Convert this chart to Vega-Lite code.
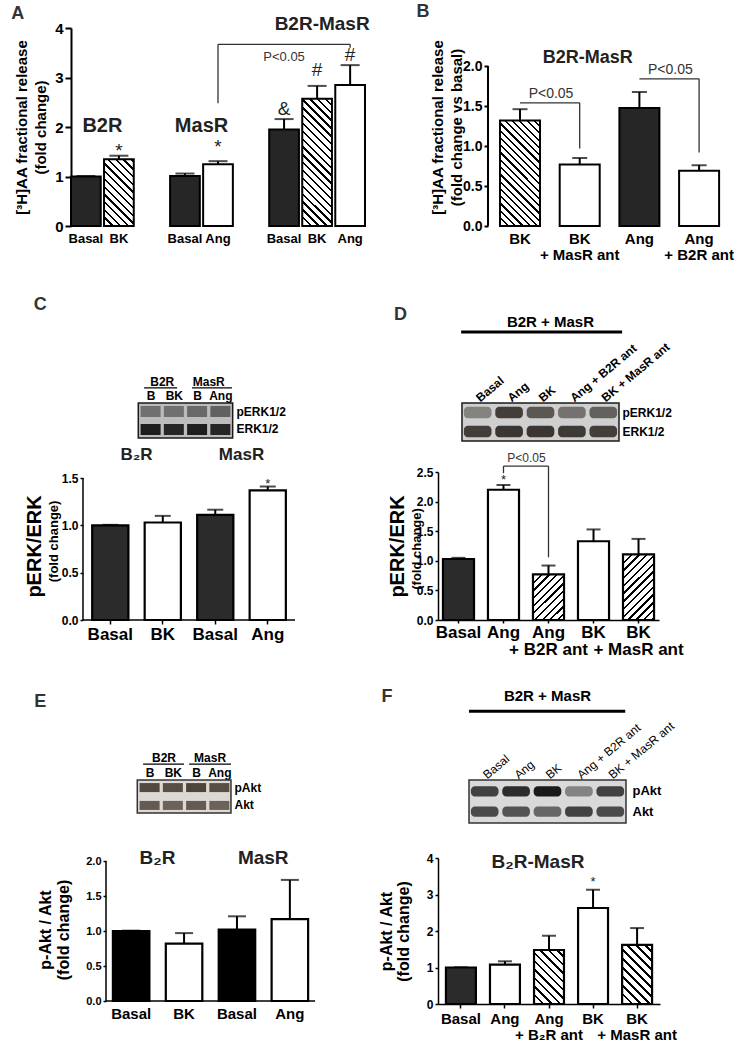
{
"$schema": "https://vega.github.io/schema/vega-lite/v6.json",
"background": "white",
"padding": 0,
"columns": 4,
"align": "each",
"bounds": "flush",
"spacing": 0,
"config": {
  "font": "Liberation Sans",
  "view": {"stroke": null},
  "axis": {"grid": false, "domainColor": "#000", "tickColor": "#000", "labelColor": "#000", "titleColor": "#000", "labelFontWeight": "bold", "titleFontWeight": "bold", "labelFont": "Liberation Sans", "titleFont": "Liberation Sans"},
  "text": {"font": "Liberation Sans"}
},
"concat": [
{"width": 71, "height": 1, "data": {"values": []}, "mark": "point", "encoding": {}},
{"width": 1, "height": 28, "data": {"values": []}, "mark": "point", "encoding": {}},
{"width": 73, "height": 1, "data": {"values": []}, "mark": "point", "encoding": {}},
{"width": 1, "height": 1, "data": {"values": []}, "mark": "point", "encoding": {}},

{"width": 1, "height": 1, "data": {"values": []}, "mark": "point", "encoding": {}},
{
  "width": 294, "height": 198,
  "encoding": {
    "x": {"field": "slot", "type": "nominal", "scale": {"domain": ["Basal|1","BK|2","|3","Basal|4","Ang|5","|6","Basal|7","BK|8","Ang|9"], "paddingInner": 0.1, "paddingOuter": 0},
          "axis": {"title": null, "domain": false, "ticks": false, "labelAngle": 0, "labelExpr": "split(datum.value,'|')[0]", "labelFontSize": 13, "labelPadding": 6}},
    "y": {"field": "v", "type": "quantitative", "scale": {"domain": [0,4], "nice": false},
          "axis": {"values": [0,1,2,3,4], "title": ["[³H]AA fractional release", "(fold change)"], "titleFontSize": 15, "titleLineHeight": 19, "titlePadding": 6, "labelFontSize": 15, "tickSize": 6, "tickWidth": 2, "domainWidth": 2, "labelPadding": 2}}
  },
  "layer": [
    {
      "data": {"values": [
        {"slot":"Basal|1","v":1.0,"hi":1.01,"kind":"solid"},
        {"slot":"BK|2","v":1.35,"hi":1.42,"kind":"hatchA2"},
        {"slot":"Basal|4","v":1.01,"hi":1.06,"kind":"solid"},
        {"slot":"Ang|5","v":1.25,"hi":1.31,"kind":"white"},
        {"slot":"Basal|7","v":1.95,"hi":2.16,"kind":"solid"},
        {"slot":"BK|8","v":2.57,"hi":2.83,"kind":"hatchA8"},
        {"slot":"Ang|9","v":2.85,"hi":3.25,"kind":"white"}
      ]},
      "layer": [
        {"mark": {"type": "rule", "strokeWidth": 2, "color": "#000"}, "encoding": {"y2": {"field": "hi"}}},
        {"mark": {"type": "tick", "thickness": 2, "size": 19, "color": "#000"}, "encoding": {"y": {"field": "hi", "type": "quantitative", "scale": {"domain": [0,4], "nice": false}}}},
        {"mark": {"type": "bar", "stroke": "#000", "strokeWidth": 2},
         "encoding": {"fill": {"condition": [
            {"test": "datum.kind==='solid'", "value": "#262626"},
            {"test": "datum.kind==='hatchA2'", "value": {"gradient": "linear", "x1": 0, "y1": 1, "x2": 0.536, "y2": -0.206, "stops": [
{"offset":0,"color":"#000"},{"offset":0.024,"color":"#000"},{"offset":0.024,"color":"#fff"},{"offset":0.08,"color":"#fff"},
{"offset":0.08,"color":"#000"},{"offset":0.104,"color":"#000"},{"offset":0.104,"color":"#fff"},{"offset":0.16,"color":"#fff"},
{"offset":0.16,"color":"#000"},{"offset":0.184,"color":"#000"},{"offset":0.184,"color":"#fff"},{"offset":0.24,"color":"#fff"},
{"offset":0.24,"color":"#000"},{"offset":0.264,"color":"#000"},{"offset":0.264,"color":"#fff"},{"offset":0.32,"color":"#fff"},
{"offset":0.32,"color":"#000"},{"offset":0.344,"color":"#000"},{"offset":0.344,"color":"#fff"},{"offset":0.4,"color":"#fff"},
{"offset":0.4,"color":"#000"},{"offset":0.424,"color":"#000"},{"offset":0.424,"color":"#fff"},{"offset":0.48,"color":"#fff"},
{"offset":0.48,"color":"#000"},{"offset":0.504,"color":"#000"},{"offset":0.504,"color":"#fff"},{"offset":0.56,"color":"#fff"},
{"offset":0.56,"color":"#000"},{"offset":0.584,"color":"#000"},{"offset":0.584,"color":"#fff"},{"offset":0.64,"color":"#fff"},
{"offset":0.64,"color":"#000"},{"offset":0.664,"color":"#000"},{"offset":0.664,"color":"#fff"},{"offset":0.72,"color":"#fff"},
{"offset":0.72,"color":"#000"},{"offset":0.744,"color":"#000"},{"offset":0.744,"color":"#fff"},{"offset":0.8,"color":"#fff"},
{"offset":0.8,"color":"#000"},{"offset":0.824,"color":"#000"},{"offset":0.824,"color":"#fff"},{"offset":0.88,"color":"#fff"},
{"offset":0.88,"color":"#000"},{"offset":0.904,"color":"#000"},{"offset":0.904,"color":"#fff"},{"offset":0.96,"color":"#fff"},
{"offset":0.96,"color":"#000"},{"offset":0.984,"color":"#000"},{"offset":0.984,"color":"#fff"},{"offset":1,"color":"#fff"}]}},
            {"test": "datum.kind==='hatchA8'", "value": {"gradient": "linear", "x1": 0, "y1": 1, "x2": 0.273, "y2": -0.170, "stops": [
{"offset":0,"color":"#000"},{"offset":0.015,"color":"#000"},{"offset":0.015,"color":"#fff"},{"offset":0.05,"color":"#fff"},
{"offset":0.05,"color":"#000"},{"offset":0.065,"color":"#000"},{"offset":0.065,"color":"#fff"},{"offset":0.1,"color":"#fff"},
{"offset":0.1,"color":"#000"},{"offset":0.115,"color":"#000"},{"offset":0.115,"color":"#fff"},{"offset":0.15,"color":"#fff"},
{"offset":0.15,"color":"#000"},{"offset":0.165,"color":"#000"},{"offset":0.165,"color":"#fff"},{"offset":0.2,"color":"#fff"},
{"offset":0.2,"color":"#000"},{"offset":0.215,"color":"#000"},{"offset":0.215,"color":"#fff"},{"offset":0.25,"color":"#fff"},
{"offset":0.25,"color":"#000"},{"offset":0.265,"color":"#000"},{"offset":0.265,"color":"#fff"},{"offset":0.3,"color":"#fff"},
{"offset":0.3,"color":"#000"},{"offset":0.315,"color":"#000"},{"offset":0.315,"color":"#fff"},{"offset":0.35,"color":"#fff"},
{"offset":0.35,"color":"#000"},{"offset":0.365,"color":"#000"},{"offset":0.365,"color":"#fff"},{"offset":0.4,"color":"#fff"},
{"offset":0.4,"color":"#000"},{"offset":0.415,"color":"#000"},{"offset":0.415,"color":"#fff"},{"offset":0.45,"color":"#fff"},
{"offset":0.45,"color":"#000"},{"offset":0.465,"color":"#000"},{"offset":0.465,"color":"#fff"},{"offset":0.5,"color":"#fff"},
{"offset":0.5,"color":"#000"},{"offset":0.515,"color":"#000"},{"offset":0.515,"color":"#fff"},{"offset":0.55,"color":"#fff"},
{"offset":0.55,"color":"#000"},{"offset":0.565,"color":"#000"},{"offset":0.565,"color":"#fff"},{"offset":0.6,"color":"#fff"},
{"offset":0.6,"color":"#000"},{"offset":0.615,"color":"#000"},{"offset":0.615,"color":"#fff"},{"offset":0.65,"color":"#fff"},
{"offset":0.65,"color":"#000"},{"offset":0.665,"color":"#000"},{"offset":0.665,"color":"#fff"},{"offset":0.7,"color":"#fff"},
{"offset":0.7,"color":"#000"},{"offset":0.715,"color":"#000"},{"offset":0.715,"color":"#fff"},{"offset":0.75,"color":"#fff"},
{"offset":0.75,"color":"#000"},{"offset":0.765,"color":"#000"},{"offset":0.765,"color":"#fff"},{"offset":0.8,"color":"#fff"},
{"offset":0.8,"color":"#000"},{"offset":0.815,"color":"#000"},{"offset":0.815,"color":"#fff"},{"offset":0.85,"color":"#fff"},
{"offset":0.85,"color":"#000"},{"offset":0.865,"color":"#000"},{"offset":0.865,"color":"#fff"},{"offset":0.9,"color":"#fff"},
{"offset":0.9,"color":"#000"},{"offset":0.915,"color":"#000"},{"offset":0.915,"color":"#fff"},{"offset":0.95,"color":"#fff"},
{"offset":0.95,"color":"#000"},{"offset":0.965,"color":"#000"},{"offset":0.965,"color":"#fff"},{"offset":1,"color":"#fff"}]}}
           ], "value": "#ffffff"}}}
      ]
    },
    {
      "data": {"values": [
        {"slot":"BK|2","v":1.52,"t":"*"},{"slot":"Ang|5","v":1.6,"t":"*"},
        {"slot":"Basal|7","v":2.36,"t":"&"},{"slot":"BK|8","v":3.15,"t":"#"},{"slot":"Ang|9","v":3.45,"t":"#"}
      ]},
      "mark": {"type": "text", "fontSize": 19, "color": "#222"},
      "encoding": {"text": {"field": "t"}}
    },
    {
      "data": {"values": [
        {"xa":"Ang|5","xb":"Ang|5","ya":2.48,"yb":3.67},
        {"xa":"Ang|5","xb":"Ang|9","ya":3.67,"yb":3.67},
        {"xa":"Ang|9","xb":"Ang|9","ya":3.67,"yb":3.6}
      ]},
      "mark": {"type": "rule", "strokeWidth": 1.3, "color": "#333"},
      "encoding": {
        "x": {"field": "xa", "type": "nominal", "scale": {"domain": ["Basal|1","BK|2","|3","Basal|4","Ang|5","|6","Basal|7","BK|8","Ang|9"], "paddingInner": 0.1, "paddingOuter": 0}},
        "x2": {"field": "xb"},
        "y": {"field": "ya", "type": "quantitative", "scale": {"domain": [0,4], "nice": false}},
        "y2": {"field": "yb"}
      }
    },
    {
      "data": {"values": [{"slot":"Basal|7","v":3.42,"t":"P<0.05"}]},
      "mark": {"type": "text", "fontSize": 13, "color": "#333"},
      "encoding": {"text": {"field": "t"}}
    },
    {
      "data": {"values": [{"slot":"Basal|1","v":2.02,"t":"B2R"},{"slot":"Basal|4","v":2.02,"t":"MasR"}]},
      "mark": {"type": "text", "fontSize": 20, "fontWeight": "bold", "color": "#222"},
      "encoding": {"x": {"field": "slot", "type": "nominal", "bandPosition": 1.057, "scale": {"domain": ["Basal|1","BK|2","|3","Basal|4","Ang|5","|6","Basal|7","BK|8","Ang|9"], "paddingInner": 0.1, "paddingOuter": 0}}, "text": {"field": "t"}}
    },
    {
      "data": {"values": [{"slot":"BK|8","v":4.08,"t":"B2R-MasR"}]},
      "mark": {"type": "text", "fontSize": 19, "fontWeight": "bold", "color": "#222"},
      "encoding": {"x": {"field": "slot", "type": "nominal", "bandPosition": 0.67, "scale": {"domain": ["Basal|1","BK|2","|3","Basal|4","Ang|5","|6","Basal|7","BK|8","Ang|9"], "paddingInner": 0.1, "paddingOuter": 0}}, "text": {"field": "t"}}
    },
    {
      "data": {"values": [{"slot":"Basal|1","v":4.28,"t":"A"}]},
      "mark": {"type": "text", "fontSize": 18, "fontWeight": "bold", "color": "#333", "dx": -68},
      "encoding": {"text": {"field": "t"}}
    }
  ]
},
{"width": 1, "height": 1, "data": {"values": []}, "mark": "point", "encoding": {}},
{
  "width": 293, "height": 198,
  "encoding": {
    "x": {"field": "slot", "type": "nominal", "scale": {"domain": ["BK","BK + MasR ant","Ang","Ang + B2R ant"], "paddingInner": 0.33, "paddingOuter": 0.619, "align": 0.839},
          "axis": {"title": null, "domain": false, "ticks": false, "labelAngle": 0, "labelFontSize": 15, "labelPadding": 5, "labelLineHeight": 16,
                   "labelExpr": "indexof(datum.value,' + ')>0 ? [slice(datum.value,0,indexof(datum.value,' + ')), slice(datum.value,indexof(datum.value,' + ')+1)] : datum.value"}},
    "y": {"field": "v", "type": "quantitative", "scale": {"domain": [0,2.475], "nice": false},
          "axis": {"values": [0,0.5,1,1.5,2], "format": ".1f", "offset": -50, "domain": false, "title": ["[³H]AA fractional release", "(fold change vs basal)"], "titleFontSize": 15, "titleLineHeight": 19, "titlePadding": -2, "labelFontSize": 14, "tickSize": 4, "tickWidth": 2, "labelPadding": 2}}
  },
  "layer": [
    {
      "data": {"values": [{"xa":"BK","ya":0,"yb":2}]},
      "mark": {"type": "rule", "strokeWidth": 2, "color": "#000"},
      "encoding": {
        "x": {"field": "xa", "type": "nominal", "bandPosition": -0.3, "scale": {"domain": ["BK","BK + MasR ant","Ang","Ang + B2R ant"], "paddingInner": 0.33, "paddingOuter": 0.619, "align": 0.839}},
        "y": {"field": "ya", "type": "quantitative", "scale": {"domain": [0,2.475], "nice": false}},
        "y2": {"field": "yb"}
      }
    },
    {
      "data": {"values": [
        {"slot":"BK","v":1.32,"hi":1.46,"kind":"hatchB1"},
        {"slot":"BK + MasR ant","v":0.77,"hi":0.85,"kind":"white"},
        {"slot":"Ang","v":1.475,"hi":1.675,"kind":"solid"},
        {"slot":"Ang + B2R ant","v":0.69,"hi":0.76,"kind":"white"}
      ]},
      "layer": [
        {"mark": {"type": "rule", "strokeWidth": 2, "color": "#000"}, "encoding": {"y2": {"field": "hi"}}},
        {"mark": {"type": "tick", "thickness": 2, "size": 15, "color": "#000"}, "encoding": {"y": {"field": "hi", "type": "quantitative", "scale": {"domain": [0,2.475], "nice": false}}}},
        {"mark": {"type": "bar", "stroke": "#000", "strokeWidth": 2},
         "encoding": {"fill": {"condition": [
            {"test": "datum.kind==='solid'", "value": "#262626"},
            {"test": "datum.kind==='hatchB1'", "value": {"gradient": "linear", "x1": 0, "y1": 1, "x2": 0.457, "y2": -0.206, "stops": [
{"offset":0,"color":"#000"},{"offset":0.015,"color":"#000"},{"offset":0.015,"color":"#fff"},{"offset":0.05,"color":"#fff"},
{"offset":0.05,"color":"#000"},{"offset":0.065,"color":"#000"},{"offset":0.065,"color":"#fff"},{"offset":0.1,"color":"#fff"},
{"offset":0.1,"color":"#000"},{"offset":0.115,"color":"#000"},{"offset":0.115,"color":"#fff"},{"offset":0.15,"color":"#fff"},
{"offset":0.15,"color":"#000"},{"offset":0.165,"color":"#000"},{"offset":0.165,"color":"#fff"},{"offset":0.2,"color":"#fff"},
{"offset":0.2,"color":"#000"},{"offset":0.215,"color":"#000"},{"offset":0.215,"color":"#fff"},{"offset":0.25,"color":"#fff"},
{"offset":0.25,"color":"#000"},{"offset":0.265,"color":"#000"},{"offset":0.265,"color":"#fff"},{"offset":0.3,"color":"#fff"},
{"offset":0.3,"color":"#000"},{"offset":0.315,"color":"#000"},{"offset":0.315,"color":"#fff"},{"offset":0.35,"color":"#fff"},
{"offset":0.35,"color":"#000"},{"offset":0.365,"color":"#000"},{"offset":0.365,"color":"#fff"},{"offset":0.4,"color":"#fff"},
{"offset":0.4,"color":"#000"},{"offset":0.415,"color":"#000"},{"offset":0.415,"color":"#fff"},{"offset":0.45,"color":"#fff"},
{"offset":0.45,"color":"#000"},{"offset":0.465,"color":"#000"},{"offset":0.465,"color":"#fff"},{"offset":0.5,"color":"#fff"},
{"offset":0.5,"color":"#000"},{"offset":0.515,"color":"#000"},{"offset":0.515,"color":"#fff"},{"offset":0.55,"color":"#fff"},
{"offset":0.55,"color":"#000"},{"offset":0.565,"color":"#000"},{"offset":0.565,"color":"#fff"},{"offset":0.6,"color":"#fff"},
{"offset":0.6,"color":"#000"},{"offset":0.615,"color":"#000"},{"offset":0.615,"color":"#fff"},{"offset":0.65,"color":"#fff"},
{"offset":0.65,"color":"#000"},{"offset":0.665,"color":"#000"},{"offset":0.665,"color":"#fff"},{"offset":0.7,"color":"#fff"},
{"offset":0.7,"color":"#000"},{"offset":0.715,"color":"#000"},{"offset":0.715,"color":"#fff"},{"offset":0.75,"color":"#fff"},
{"offset":0.75,"color":"#000"},{"offset":0.765,"color":"#000"},{"offset":0.765,"color":"#fff"},{"offset":0.8,"color":"#fff"},
{"offset":0.8,"color":"#000"},{"offset":0.815,"color":"#000"},{"offset":0.815,"color":"#fff"},{"offset":0.85,"color":"#fff"},
{"offset":0.85,"color":"#000"},{"offset":0.865,"color":"#000"},{"offset":0.865,"color":"#fff"},{"offset":0.9,"color":"#fff"},
{"offset":0.9,"color":"#000"},{"offset":0.915,"color":"#000"},{"offset":0.915,"color":"#fff"},{"offset":0.95,"color":"#fff"},
{"offset":0.95,"color":"#000"},{"offset":0.965,"color":"#000"},{"offset":0.965,"color":"#fff"},{"offset":1,"color":"#fff"}]}}
           ], "value": "#ffffff"}}}
      ]
    },
    {
      "data": {"values": [
        {"xa":"BK","xb":"BK + MasR ant","ya":1.54,"yb":1.54},
        {"xa":"BK + MasR ant","xb":"BK + MasR ant","ya":1.54,"yb":0.97},
        {"xa":"Ang","xb":"Ang + B2R ant","ya":1.84,"yb":1.84},
        {"xa":"Ang + B2R ant","xb":"Ang + B2R ant","ya":1.84,"yb":0.92}
      ]},
      "mark": {"type": "rule", "strokeWidth": 1.3, "color": "#333"},
      "encoding": {
        "x": {"field": "xa", "type": "nominal", "scale": {"domain": ["BK","BK + MasR ant","Ang","Ang + B2R ant"], "paddingInner": 0.33, "paddingOuter": 0.619, "align": 0.839}},
        "x2": {"field": "xb"},
        "y": {"field": "ya", "type": "quantitative", "scale": {"domain": [0,2.475], "nice": false}},
        "y2": {"field": "yb"}
      }
    },
    {
      "data": {"values": [{"slot":"BK","v":1.65,"t":"P<0.05"},{"slot":"Ang","v":1.95,"t":"P<0.05"}]},
      "mark": {"type": "text", "fontSize": 14, "color": "#333", "dx": 31},
      "encoding": {"text": {"field": "t"}}
    },
    {
      "data": {"values": [{"slot":"BK + MasR ant","v":2.1,"t":"B2R-MasR"}]},
      "mark": {"type": "text", "fontSize": 18, "fontWeight": "bold", "color": "#222", "dx": 8},
      "encoding": {"text": {"field": "t"}}
    },
    {
      "data": {"values": [{"slot":"BK","v":2.675,"t":"B"}]},
      "mark": {"type": "text", "fontSize": 18, "fontWeight": "bold", "color": "#333", "dx": -97},
      "encoding": {"text": {"field": "t"}}
    }
  ]
},

{"width": 1, "height": 1, "data": {"values": []}, "mark": "point", "encoding": {}},
{"width": 1, "height": 177, "data": {"values": []}, "mark": "point", "encoding": {}},
{"width": 1, "height": 1, "data": {"values": []}, "mark": "point", "encoding": {}},
{"width": 1, "height": 1, "data": {"values": []}, "mark": "point", "encoding": {}},

{"width": 1, "height": 1, "data": {"values": []}, "mark": "point", "encoding": {}},
{
  "width": 162, "height": 35,
  "resolve": {"scale": {"y": "independent"}},
  "layer": [
    {
      "data": {"values": [{"a":0.47,"b":4.53}]},
      "mark": {"type": "rect", "fill": "#bcbcbc", "stroke": "#1a1a1a", "strokeWidth": 1.5},
      "encoding": {
        "x": {"field": "a", "type": "quantitative", "scale": {"domain": [-2.424, 4.544], "nice": false, "zero": false},
              "axis": {"orient": "top", "values": [1,2,3,4], "title": null, "domain": false, "ticks": false, "grid": false, "labelExpr": "['B','BK','B','Ang'][datum.value-1]", "labelFontSize": 12, "labelPadding": 1}},
        "x2": {"field": "b"},
        "y": {"datum": 0, "type": "quantitative", "scale": {"domain": [0,1]}, "axis": null},
        "y2": {"datum": 1}
      }
    },
    {
      "data": {"values": [
        {"ln":1,"track":"pERK1/2","i":0.45},{"ln":2,"track":"pERK1/2","i":0.45},{"ln":3,"track":"pERK1/2","i":0.5},{"ln":4,"track":"pERK1/2","i":0.55},
        {"ln":1,"track":"ERK1/2","i":0.95},{"ln":2,"track":"ERK1/2","i":0.9},{"ln":3,"track":"ERK1/2","i":0.95},{"ln":4,"track":"ERK1/2","i":0.9}
      ]},
      "mark": {"type": "tick", "thickness": 20, "size": 11, "color": "#151515"},
      "encoding": {
        "x": {"field": "ln", "type": "quantitative", "scale": {"domain": [-2.424, 4.544], "nice": false, "zero": false}},
        "y": {"field": "track", "type": "nominal", "scale": {"domain": ["pERK1/2","ERK1/2"], "paddingInner": 0.35, "paddingOuter": 0.15},
              "axis": {"orient": "right", "title": null, "domain": false, "ticks": false, "labelFontSize": 12, "labelPadding": 3}},
        "opacity": {"field": "i", "type": "quantitative", "scale": {"domain": [0,1], "range": [0,1]}, "legend": null}
      }
    },
    {
      "data": {"values": [{"ln":1.5,"t":"B2R"},{"ln":3.5,"t":"MasR"}]},
      "mark": {"type": "text", "fontSize": 12, "fontWeight": "bold", "color": "#000"},
      "encoding": {
        "x": {"field": "ln", "type": "quantitative", "scale": {"domain": [-2.424, 4.544], "nice": false, "zero": false}},
        "y": {"datum": 1.6, "type": "quantitative", "scale": {"domain": [0,1]}, "axis": null},
        "text": {"field": "t"}
      }
    },
    {
      "data": {"values": [{"a":0.72,"b":2.14},{"a":2.78,"b":4.5}]},
      "mark": {"type": "rule", "strokeWidth": 1.2, "color": "#000"},
      "encoding": {
        "x": {"field": "a", "type": "quantitative", "scale": {"domain": [-2.424, 4.544], "nice": false, "zero": false}},
        "x2": {"field": "b"},
        "y": {"datum": 1.43, "type": "quantitative", "scale": {"domain": [0,1]}, "axis": null}
      }
    }
  ]
},
{"width": 1, "height": 1, "data": {"values": []}, "mark": "point", "encoding": {}},
{
  "width": 181, "height": 38,
  "resolve": {"scale": {"y": "independent"}},
  "layer": [
    {
      "data": {"values": [{"a":"Basal","b":"BK + MasR ant"}]},
      "mark": {"type": "rect", "fill": "#cfcfcf", "stroke": "#1a1a1a", "strokeWidth": 1.5},
      "encoding": {
        "x": {"field": "a", "type": "nominal", "bandPosition": -0.068, "scale": {"domain": ["Basal","Ang","BK","Ang + B2R ant","BK + MasR ant"], "paddingInner": 0.12, "paddingOuter": 0.442, "align": 0.932},
              "axis": {"orient": "top", "title": null, "domain": false, "ticks": false, "labelAngle": -40, "labelAlign": "left", "labelBaseline": "middle", "labelFontSize": 12, "labelPadding": 4}},
        "x2": {"field": "b", "bandPosition": 1.068},
        "y": {"datum": 0, "type": "quantitative", "scale": {"domain": [0,1]}, "axis": null},
        "y2": {"datum": 1}
      }
    },
    {
      "data": {"values": [
        {"lane":"Basal","track":"pERK1/2","i":0.45},{"lane":"Ang","track":"pERK1/2","i":0.85},{"lane":"BK","track":"pERK1/2","i":0.7},{"lane":"Ang + B2R ant","track":"pERK1/2","i":0.55},{"lane":"BK + MasR ant","track":"pERK1/2","i":0.65},
        {"lane":"Basal","track":"ERK1/2","i":0.85},{"lane":"Ang","track":"ERK1/2","i":0.9},{"lane":"BK","track":"ERK1/2","i":0.9},{"lane":"Ang + B2R ant","track":"ERK1/2","i":0.88},{"lane":"BK + MasR ant","track":"ERK1/2","i":0.85}
      ]},
      "mark": {"type": "rect", "cornerRadius": 4, "color": "#2a2520"},
      "encoding": {
        "x": {"field": "lane", "type": "nominal", "scale": {"domain": ["Basal","Ang","BK","Ang + B2R ant","BK + MasR ant"], "paddingInner": 0.12, "paddingOuter": 0.442, "align": 0.932}},
        "y": {"field": "track", "type": "nominal", "scale": {"domain": ["pERK1/2","ERK1/2"], "paddingInner": 0.4, "paddingOuter": 0.2},
              "axis": {"orient": "right", "title": null, "domain": false, "ticks": false, "labelFontSize": 12, "labelPadding": 3}},
        "opacity": {"field": "i", "type": "quantitative", "scale": {"domain": [0,1], "range": [0,1]}, "legend": null}
      }
    },
    {
      "data": {"values": [{"lane":"BK","t":"B2R + MasR"}]},
      "mark": {"type": "text", "fontSize": 15, "fontWeight": "bold", "color": "#000"},
      "encoding": {
        "x": {"field": "lane", "type": "nominal", "bandPosition": 0.86, "scale": {"domain": ["Basal","Ang","BK","Ang + B2R ant","BK + MasR ant"], "paddingInner": 0.12, "paddingOuter": 0.442, "align": 0.932}},
        "y": {"datum": 3.13, "type": "quantitative", "scale": {"domain": [0,1]}, "axis": null},
        "text": {"field": "t"}
      }
    },
    {
      "data": {"values": [{"a":"Basal","b":"BK + MasR ant"}]},
      "mark": {"type": "rule", "strokeWidth": 3, "color": "#000"},
      "encoding": {
        "x": {"field": "a", "type": "nominal", "bandPosition": -0.1, "scale": {"domain": ["Basal","Ang","BK","Ang + B2R ant","BK + MasR ant"], "paddingInner": 0.12, "paddingOuter": 0.442, "align": 0.932}},
        "x2": {"field": "b", "bandPosition": 1.18},
        "y": {"datum": 2.87, "type": "quantitative", "scale": {"domain": [0,1]}, "axis": null}
      }
    }
  ]
},

{"width": 1, "height": 1, "data": {"values": []}, "mark": "point", "encoding": {}},
{"width": 1, "height": 31, "data": {"values": []}, "mark": "point", "encoding": {}},
{"width": 1, "height": 1, "data": {"values": []}, "mark": "point", "encoding": {}},
{"width": 1, "height": 1, "data": {"values": []}, "mark": "point", "encoding": {}},

{"width": 1, "height": 1, "data": {"values": []}, "mark": "point", "encoding": {}},
{
  "width": 224, "height": 148,
  "encoding": {
    "x": {"field": "slot", "type": "nominal", "scale": {"domain": ["Basal|1","BK|2","Basal|3","Ang|4"], "paddingInner": 0.31, "paddingOuter": 0.289, "align": 0.6985},
          "axis": {"title": null, "domain": false, "tickWidth": 1.5, "tickSize": 4, "labelAngle": 0, "labelExpr": "split(datum.value,'|')[0]", "labelFontSize": 17, "labelPadding": 2}},
    "y": {"field": "v", "type": "quantitative", "scale": {"domain": [0,1.5634], "nice": false},
          "axis": {"values": [0,0.5,1,1.5], "format": ".1f", "offset": -12, "domain": false, "title": "pERK/ERK", "titleFontSize": 20, "titlePadding": 17, "labelFontSize": 12, "tickSize": 3, "tickWidth": 1.5, "labelPadding": 2}}
  },
  "layer": [
    {
      "data": {"values": [{"xa":"Basal|1","ya":0,"yb":1.5}]},
      "mark": {"type": "rule", "strokeWidth": 1.5, "color": "#000"},
      "encoding": {
        "x": {"field": "xa", "type": "nominal", "bandPosition": -0.254, "scale": {"domain": ["Basal|1","BK|2","Basal|3","Ang|4"], "paddingInner": 0.31, "paddingOuter": 0.289, "align": 0.6985}},
        "y": {"field": "ya", "type": "quantitative", "scale": {"domain": [0,1.5634], "nice": false}},
        "y2": {"field": "yb"}
      }
    },
    {
      "data": {"values": [{"xa":"Basal|1","xb":"Ang|4","ya":0}]},
      "mark": {"type": "rule", "strokeWidth": 1.5, "color": "#000"},
      "encoding": {
        "x": {"field": "xa", "type": "nominal", "bandPosition": -0.254, "scale": {"domain": ["Basal|1","BK|2","Basal|3","Ang|4"], "paddingInner": 0.31, "paddingOuter": 0.289, "align": 0.6985}},
        "x2": {"field": "xb", "bandPosition": 1.253},
        "y": {"field": "ya", "type": "quantitative", "scale": {"domain": [0,1.5634], "nice": false}}
      }
    },
    {
      "data": {"values": [
        {"slot":"Basal|1","v":1.0,"hi":1.005,"kind":"solid"},
        {"slot":"BK|2","v":1.03,"hi":1.1,"kind":"white"},
        {"slot":"Basal|3","v":1.11,"hi":1.165,"kind":"solid"},
        {"slot":"Ang|4","v":1.37,"hi":1.41,"kind":"white"}
      ]},
      "layer": [
        {"mark": {"type": "rule", "strokeWidth": 2, "color": "#000"}, "encoding": {"y2": {"field": "hi"}}},
        {"mark": {"type": "tick", "thickness": 2, "size": 16, "color": "#000"}, "encoding": {"y": {"field": "hi", "type": "quantitative", "scale": {"domain": [0,1.5634], "nice": false}}}},
        {"mark": {"type": "bar", "stroke": "#000", "strokeWidth": 2.2},
         "encoding": {"fill": {"condition": [{"test": "datum.kind==='solid'", "value": "#2b2b2b"}], "value": "#ffffff"}}}
      ]
    },
    {
      "data": {"values": [{"slot":"Ang|4","v":1.44,"t":"*"}]},
      "mark": {"type": "text", "fontSize": 13, "color": "#222"},
      "encoding": {"text": {"field": "t"}}
    },
    {
      "data": {"values": [{"a":"Basal|1","b":"BK|2"},{"a":"Basal|3","b":"Ang|4"}]},
      "mark": {"type": "rule", "strokeWidth": 1.5, "color": "#000"},
      "encoding": {
        "x": {"field": "a", "type": "nominal", "bandPosition": -0.12, "scale": {"domain": ["Basal|1","BK|2","Basal|3","Ang|4"], "paddingInner": 0.31, "paddingOuter": 0.289, "align": 0.6985}},
        "x2": {"field": "b", "bandPosition": 1.08},
        "y": {"datum": 1.595, "type": "quantitative", "scale": {"domain": [0,1.5634], "nice": false}}
      }
    },
    {
      "data": {"values": [{"slot":"Basal|1","v":1.743,"t":"B₂R"},{"slot":"Basal|3","v":1.743,"t":"MasR"}]},
      "mark": {"type": "text", "fontSize": 17, "fontWeight": "bold", "color": "#222"},
      "encoding": {"x": {"field": "slot", "type": "nominal", "bandPosition": 1.224, "scale": {"domain": ["Basal|1","BK|2","Basal|3","Ang|4"], "paddingInner": 0.31, "paddingOuter": 0.289, "align": 0.6985}}, "text": {"field": "t"}}
    },
    {
      "data": {"values": [{"slot":"Basal|1","v":0.83,"t":"(fold change)"}]},
      "mark": {"type": "text", "fontSize": 13, "fontWeight": "bold", "color": "#000", "angle": 270, "dy": -38},
      "encoding": {"x": {"field": "slot", "type": "nominal", "bandPosition": 0, "scale": {"domain": ["Basal|1","BK|2","Basal|3","Ang|4"], "paddingInner": 0.31, "paddingOuter": 0.289, "align": 0.6985}}, "text": {"field": "t"}}
    },
    {
      "data": {"values": [{"slot":"Basal|1","v":3.327,"t":"C"}]},
      "mark": {"type": "text", "fontSize": 18, "fontWeight": "bold", "color": "#333", "dx": -70},
      "encoding": {"text": {"field": "t"}}
    }
  ]
},
{"width": 1, "height": 1, "data": {"values": []}, "mark": "point", "encoding": {}},
{
  "width": 221, "height": 148,
  "encoding": {
    "x": {"field": "slot", "type": "nominal", "scale": {"domain": ["Basal","Ang","Ang + B2R ant","BK","BK + MasR ant"], "paddingInner": 0.31, "paddingOuter": 0.11},
          "axis": {"title": null, "domainWidth": 1.5, "tickWidth": 1.5, "tickSize": 3, "labelAngle": 0, "labelFontSize": 17, "labelPadding": 1, "labelLineHeight": 17,
                   "labelExpr": "indexof(datum.value,' + ')>0 ? [slice(datum.value,0,indexof(datum.value,' + ')), slice(datum.value,indexof(datum.value,' + ')+1)] : datum.value"}},
    "y": {"field": "v", "type": "quantitative", "scale": {"domain": [0,2.5], "nice": false},
          "axis": {"values": [0,0.5,1,1.5,2,2.5], "format": ".1f", "title": "pERK/ERK", "titleFontSize": 20, "titlePadding": 9, "labelFontSize": 12, "tickSize": 3, "tickWidth": 1.5, "domainWidth": 1.5, "labelPadding": 2}}
  },
  "layer": [
    {
      "data": {"values": [
        {"slot":"Basal","v":1.03,"hi":1.05,"kind":"solid"},
        {"slot":"Ang","v":2.2,"hi":2.28,"kind":"white"},
        {"slot":"Ang + B2R ant","v":0.77,"hi":0.92,"kind":"hatchD3"},
        {"slot":"BK","v":1.33,"hi":1.53,"kind":"white"},
        {"slot":"BK + MasR ant","v":1.11,"hi":1.37,"kind":"hatchD5"}
      ]},
      "layer": [
        {"mark": {"type": "rule", "strokeWidth": 2, "color": "#000"}, "encoding": {"y2": {"field": "hi"}}},
        {"mark": {"type": "tick", "thickness": 2, "size": 14, "color": "#000"}, "encoding": {"y": {"field": "hi", "type": "quantitative", "scale": {"domain": [0,2.5], "nice": false}}}},
        {"mark": {"type": "bar", "stroke": "#000", "strokeWidth": 2.2},
         "encoding": {"fill": {"condition": [
            {"test": "datum.kind==='solid'", "value": "#2b2b2b"},
            {"test": "datum.kind==='hatchD3'", "value": {"gradient": "linear", "x1": 0, "y1": 0, "x2": 0.781, "y2": 1.149, "stops": [
{"offset":0,"color":"#000"},{"offset":0.03,"color":"#000"},{"offset":0.03,"color":"#fff"},{"offset":0.1,"color":"#fff"},
{"offset":0.1,"color":"#000"},{"offset":0.13,"color":"#000"},{"offset":0.13,"color":"#fff"},{"offset":0.2,"color":"#fff"},
{"offset":0.2,"color":"#000"},{"offset":0.23,"color":"#000"},{"offset":0.23,"color":"#fff"},{"offset":0.3,"color":"#fff"},
{"offset":0.3,"color":"#000"},{"offset":0.33,"color":"#000"},{"offset":0.33,"color":"#fff"},{"offset":0.4,"color":"#fff"},
{"offset":0.4,"color":"#000"},{"offset":0.43,"color":"#000"},{"offset":0.43,"color":"#fff"},{"offset":0.5,"color":"#fff"},
{"offset":0.5,"color":"#000"},{"offset":0.53,"color":"#000"},{"offset":0.53,"color":"#fff"},{"offset":0.6,"color":"#fff"},
{"offset":0.6,"color":"#000"},{"offset":0.63,"color":"#000"},{"offset":0.63,"color":"#fff"},{"offset":0.7,"color":"#fff"},
{"offset":0.7,"color":"#000"},{"offset":0.73,"color":"#000"},{"offset":0.73,"color":"#fff"},{"offset":0.8,"color":"#fff"},
{"offset":0.8,"color":"#000"},{"offset":0.83,"color":"#000"},{"offset":0.83,"color":"#fff"},{"offset":0.9,"color":"#fff"},
{"offset":0.9,"color":"#000"},{"offset":0.93,"color":"#000"},{"offset":0.93,"color":"#fff"},{"offset":1,"color":"#fff"}]}},
            {"test": "datum.kind==='hatchD5'", "value": {"gradient": "linear", "x1": 0, "y1": 0, "x2": 0.568, "y2": 1.204, "stops": [
{"offset":0,"color":"#000"},{"offset":0.024,"color":"#000"},{"offset":0.024,"color":"#fff"},{"offset":0.08,"color":"#fff"},
{"offset":0.08,"color":"#000"},{"offset":0.104,"color":"#000"},{"offset":0.104,"color":"#fff"},{"offset":0.16,"color":"#fff"},
{"offset":0.16,"color":"#000"},{"offset":0.184,"color":"#000"},{"offset":0.184,"color":"#fff"},{"offset":0.24,"color":"#fff"},
{"offset":0.24,"color":"#000"},{"offset":0.264,"color":"#000"},{"offset":0.264,"color":"#fff"},{"offset":0.32,"color":"#fff"},
{"offset":0.32,"color":"#000"},{"offset":0.344,"color":"#000"},{"offset":0.344,"color":"#fff"},{"offset":0.4,"color":"#fff"},
{"offset":0.4,"color":"#000"},{"offset":0.424,"color":"#000"},{"offset":0.424,"color":"#fff"},{"offset":0.48,"color":"#fff"},
{"offset":0.48,"color":"#000"},{"offset":0.504,"color":"#000"},{"offset":0.504,"color":"#fff"},{"offset":0.56,"color":"#fff"},
{"offset":0.56,"color":"#000"},{"offset":0.584,"color":"#000"},{"offset":0.584,"color":"#fff"},{"offset":0.64,"color":"#fff"},
{"offset":0.64,"color":"#000"},{"offset":0.664,"color":"#000"},{"offset":0.664,"color":"#fff"},{"offset":0.72,"color":"#fff"},
{"offset":0.72,"color":"#000"},{"offset":0.744,"color":"#000"},{"offset":0.744,"color":"#fff"},{"offset":0.8,"color":"#fff"},
{"offset":0.8,"color":"#000"},{"offset":0.824,"color":"#000"},{"offset":0.824,"color":"#fff"},{"offset":0.88,"color":"#fff"},
{"offset":0.88,"color":"#000"},{"offset":0.904,"color":"#000"},{"offset":0.904,"color":"#fff"},{"offset":0.96,"color":"#fff"},
{"offset":0.96,"color":"#000"},{"offset":0.984,"color":"#000"},{"offset":0.984,"color":"#fff"},{"offset":1,"color":"#fff"}]}}
           ], "value": "#ffffff"}}}
      ]
    },
    {
      "data": {"values": [{"slot":"Ang","v":2.37,"t":"*"}]},
      "mark": {"type": "text", "fontSize": 13, "color": "#222"},
      "encoding": {"text": {"field": "t"}}
    },
    {
      "data": {"values": [
        {"xa":"Ang","xb":"Ang","ya":2.48,"yb":2.6},
        {"xa":"Ang","xb":"Ang + B2R ant","ya":2.6,"yb":2.6},
        {"xa":"Ang + B2R ant","xb":"Ang + B2R ant","ya":2.6,"yb":1.06}
      ]},
      "mark": {"type": "rule", "strokeWidth": 1.3, "color": "#333"},
      "encoding": {
        "x": {"field": "xa", "type": "nominal", "scale": {"domain": ["Basal","Ang","Ang + B2R ant","BK","BK + MasR ant"], "paddingInner": 0.31, "paddingOuter": 0.11}},
        "x2": {"field": "xb"},
        "y": {"field": "ya", "type": "quantitative", "scale": {"domain": [0,2.5], "nice": false}},
        "y2": {"field": "yb"}
      }
    },
    {
      "data": {"values": [{"slot":"Ang","v":2.73,"t":"P<0.05"}]},
      "mark": {"type": "text", "fontSize": 12, "color": "#333", "dx": 23},
      "encoding": {"text": {"field": "t"}}
    },
    {
      "data": {"values": [{"slot":"Basal","v":1.2,"t":"(fold change)"}]},
      "mark": {"type": "text", "fontSize": 13, "fontWeight": "bold", "color": "#000", "angle": 270, "dy": -26},
      "encoding": {"x": {"field": "slot", "type": "nominal", "bandPosition": 0, "scale": {"domain": ["Basal","Ang","Ang + B2R ant","BK","BK + MasR ant"], "paddingInner": 0.31, "paddingOuter": 0.11}}, "text": {"field": "t"}}
    },
    {
      "data": {"values": [{"slot":"Basal","v":5.15,"t":"D"}]},
      "mark": {"type": "text", "fontSize": 18, "fontWeight": "bold", "color": "#333", "dx": -58},
      "encoding": {"text": {"field": "t"}}
    }
  ]
},

{"width": 1, "height": 1, "data": {"values": []}, "mark": "point", "encoding": {}},
{"width": 1, "height": 160, "data": {"values": []}, "mark": "point", "encoding": {}},
{"width": 1, "height": 1, "data": {"values": []}, "mark": "point", "encoding": {}},
{"width": 1, "height": 1, "data": {"values": []}, "mark": "point", "encoding": {}},

{"width": 1, "height": 1, "data": {"values": []}, "mark": "point", "encoding": {}},
{
  "width": 160, "height": 33,
  "resolve": {"scale": {"y": "independent"}},
  "layer": [
    {
      "data": {"values": [{"a":0.47,"b":4.5}]},
      "mark": {"type": "rect", "fill": "#ddd9d2", "stroke": "#333", "strokeWidth": 1.5},
      "encoding": {
        "x": {"field": "a", "type": "quantitative", "scale": {"domain": [-2.381, 4.501], "nice": false, "zero": false},
              "axis": {"orient": "top", "values": [1,2,3,4], "title": null, "domain": false, "ticks": false, "grid": false, "labelExpr": "['B','BK','B','Ang'][datum.value-1]", "labelFontSize": 12, "labelPadding": 1}},
        "x2": {"field": "b"},
        "y": {"datum": 0, "type": "quantitative", "scale": {"domain": [0,1]}, "axis": null},
        "y2": {"datum": 1}
      }
    },
    {
      "data": {"values": [
        {"ln":1,"track":"pAkt","i":0.85},{"ln":2,"track":"pAkt","i":0.82},{"ln":3,"track":"pAkt","i":0.88},{"ln":4,"track":"pAkt","i":0.82},
        {"ln":1,"track":"Akt","i":0.75},{"ln":2,"track":"Akt","i":0.7},{"ln":3,"track":"Akt","i":0.75},{"ln":4,"track":"Akt","i":0.7}
      ]},
      "mark": {"type": "tick", "thickness": 20, "size": 9, "color": "#3a2f27"},
      "encoding": {
        "x": {"field": "ln", "type": "quantitative", "scale": {"domain": [-2.381, 4.501], "nice": false, "zero": false}},
        "y": {"field": "track", "type": "nominal", "scale": {"domain": ["pAkt","Akt"], "paddingInner": 0.45, "paddingOuter": 0.15},
              "axis": {"orient": "right", "title": null, "domain": false, "ticks": false, "labelFontSize": 12, "labelPadding": 3}},
        "opacity": {"field": "i", "type": "quantitative", "scale": {"domain": [0,1], "range": [0,1]}, "legend": null}
      }
    },
    {
      "data": {"values": [{"ln":1.62,"t":"B2R"},{"ln":3.6,"t":"MasR"}]},
      "mark": {"type": "text", "fontSize": 12, "fontWeight": "bold", "color": "#000"},
      "encoding": {
        "x": {"field": "ln", "type": "quantitative", "scale": {"domain": [-2.381, 4.501], "nice": false, "zero": false}},
        "y": {"datum": 1.67, "type": "quantitative", "scale": {"domain": [0,1]}, "axis": null},
        "text": {"field": "t"}
      }
    },
    {
      "data": {"values": [{"a":0.72,"b":2.48},{"a":2.7,"b":4.5}]},
      "mark": {"type": "rule", "strokeWidth": 1.2, "color": "#000"},
      "encoding": {
        "x": {"field": "a", "type": "quantitative", "scale": {"domain": [-2.381, 4.501], "nice": false, "zero": false}},
        "x2": {"field": "b"},
        "y": {"datum": 1.48, "type": "quantitative", "scale": {"domain": [0,1]}, "axis": null}
      }
    }
  ]
},
{"width": 1, "height": 1, "data": {"values": []}, "mark": "point", "encoding": {}},
{
  "width": 188, "height": 43,
  "resolve": {"scale": {"y": "independent"}},
  "layer": [
    {
      "data": {"values": [{"a":"Basal","b":"BK + MasR ant"}]},
      "mark": {"type": "rect", "fill": "#d9d9d9", "stroke": "#333", "strokeWidth": 1.5},
      "encoding": {
        "x": {"field": "a", "type": "nominal", "bandPosition": -0.068, "scale": {"domain": ["Basal","Ang","BK","Ang + B2R ant","BK + MasR ant"], "paddingInner": 0.12, "paddingOuter": 0.5536, "align": 0.9458},
              "axis": {"orient": "top", "title": null, "domain": false, "ticks": false, "labelAngle": -40, "labelAlign": "left", "labelBaseline": "middle", "labelFontSize": 12, "labelFontWeight": "normal", "labelPadding": 4}},
        "x2": {"field": "b", "bandPosition": 1.068},
        "y": {"datum": 0, "type": "quantitative", "scale": {"domain": [0,1]}, "axis": null},
        "y2": {"datum": 1}
      }
    },
    {
      "data": {"values": [
        {"lane":"Basal","track":"pAkt","i":0.8},{"lane":"Ang","track":"pAkt","i":0.9},{"lane":"BK","track":"pAkt","i":1.0},{"lane":"Ang + B2R ant","track":"pAkt","i":0.45},{"lane":"BK + MasR ant","track":"pAkt","i":0.8},
        {"lane":"Basal","track":"Akt","i":0.75},{"lane":"Ang","track":"Akt","i":0.7},{"lane":"BK","track":"Akt","i":0.6},{"lane":"Ang + B2R ant","track":"Akt","i":0.8},{"lane":"BK + MasR ant","track":"Akt","i":0.75}
      ]},
      "mark": {"type": "rect", "cornerRadius": 4, "color": "#1a1a1a"},
      "encoding": {
        "x": {"field": "lane", "type": "nominal", "scale": {"domain": ["Basal","Ang","BK","Ang + B2R ant","BK + MasR ant"], "paddingInner": 0.12, "paddingOuter": 0.5536, "align": 0.9458}},
        "y": {"field": "track", "type": "nominal", "scale": {"domain": ["pAkt","Akt"], "paddingInner": 0.5, "paddingOuter": 0.3},
              "axis": {"orient": "right", "title": null, "domain": false, "ticks": false, "labelFontSize": 13, "labelPadding": 6}},
        "opacity": {"field": "i", "type": "quantitative", "scale": {"domain": [0,1], "range": [0,1]}, "legend": null}
      }
    },
    {
      "data": {"values": [{"lane":"BK","t":"B2R + MasR"}]},
      "mark": {"type": "text", "fontSize": 15, "fontWeight": "bold", "color": "#000"},
      "encoding": {
        "x": {"field": "lane", "type": "nominal", "bandPosition": 0.5, "scale": {"domain": ["Basal","Ang","BK","Ang + B2R ant","BK + MasR ant"], "paddingInner": 0.12, "paddingOuter": 0.5536, "align": 0.9458}},
        "y": {"datum": 2.95, "type": "quantitative", "scale": {"domain": [0,1]}, "axis": null},
        "text": {"field": "t"}
      }
    },
    {
      "data": {"values": [{"a":"Basal","b":"BK + MasR ant"}]},
      "mark": {"type": "rule", "strokeWidth": 3, "color": "#000"},
      "encoding": {
        "x": {"field": "a", "type": "nominal", "bandPosition": -0.07, "scale": {"domain": ["Basal","Ang","BK","Ang + B2R ant","BK + MasR ant"], "paddingInner": 0.12, "paddingOuter": 0.5536, "align": 0.9458}},
        "x2": {"field": "b", "bandPosition": 1.04},
        "y": {"datum": 2.6, "type": "quantitative", "scale": {"domain": [0,1]}, "axis": null}
      }
    }
  ]
},

{"width": 1, "height": 1, "data": {"values": []}, "mark": "point", "encoding": {}},
{"width": 1, "height": 35, "data": {"values": []}, "mark": "point", "encoding": {}},
{"width": 1, "height": 1, "data": {"values": []}, "mark": "point", "encoding": {}},
{"width": 1, "height": 1, "data": {"values": []}, "mark": "point", "encoding": {}},

{"width": 1, "height": 1, "data": {"values": []}, "mark": "point", "encoding": {}},
{
  "width": 244, "height": 143,
  "encoding": {
    "x": {"field": "slot", "type": "nominal", "scale": {"domain": ["Basal|1","BK|2","Basal|3","Ang|4"], "paddingInner": 0.31, "paddingOuter": 0.461, "align": 0.859},
          "axis": {"title": null, "domain": false, "ticks": false, "labelAngle": 0, "labelExpr": "split(datum.value,'|')[0]", "labelFontSize": 15, "labelPadding": 5}},
    "y": {"field": "v", "type": "quantitative", "scale": {"domain": [0,2.043], "nice": false},
          "axis": {"values": [0,0.5,1,1.5,2], "format": ".1f", "offset": -35, "domain": false, "title": ["p-Akt / Akt", "(fold change)"], "titleFontSize": 16, "titleLineHeight": 18, "titlePadding": 14, "labelFontSize": 11, "tickSize": 3, "tickWidth": 1.5, "labelPadding": 2}}
  },
  "layer": [
    {
      "data": {"values": [{"xa":"Basal|1","ya":0,"yb":2}]},
      "mark": {"type": "rule", "strokeWidth": 1.5, "color": "#000"},
      "encoding": {
        "x": {"field": "xa", "type": "nominal", "bandPosition": -0.189, "scale": {"domain": ["Basal|1","BK|2","Basal|3","Ang|4"], "paddingInner": 0.31, "paddingOuter": 0.461, "align": 0.859}},
        "y": {"field": "ya", "type": "quantitative", "scale": {"domain": [0,2.043], "nice": false}},
        "y2": {"field": "yb"}
      }
    },
    {
      "data": {"values": [{"xa":"Basal|1","xb":"Ang|4","ya":0}]},
      "mark": {"type": "rule", "strokeWidth": 1.5, "color": "#000"},
      "encoding": {
        "x": {"field": "xa", "type": "nominal", "bandPosition": -0.189, "scale": {"domain": ["Basal|1","BK|2","Basal|3","Ang|4"], "paddingInner": 0.31, "paddingOuter": 0.461, "align": 0.859}},
        "x2": {"field": "xb", "bandPosition": 1.19},
        "y": {"field": "ya", "type": "quantitative", "scale": {"domain": [0,2.043], "nice": false}}
      }
    },
    {
      "data": {"values": [
        {"slot":"Basal|1","v":1.0,"hi":1.005,"kind":"solid"},
        {"slot":"BK|2","v":0.82,"hi":0.97,"kind":"white"},
        {"slot":"Basal|3","v":1.02,"hi":1.21,"kind":"solid"},
        {"slot":"Ang|4","v":1.17,"hi":1.73,"kind":"white"}
      ]},
      "layer": [
        {"mark": {"type": "rule", "strokeWidth": 2, "color": "#000"}, "encoding": {"y2": {"field": "hi"}}},
        {"mark": {"type": "tick", "thickness": 2, "size": 18, "color": "#000"}, "encoding": {"y": {"field": "hi", "type": "quantitative", "scale": {"domain": [0,2.043], "nice": false}}}},
        {"mark": {"type": "bar", "stroke": "#000", "strokeWidth": 2.2},
         "encoding": {"fill": {"condition": [{"test": "datum.kind==='solid'", "value": "#000000"}], "value": "#ffffff"}}}
      ]
    },
    {
      "data": {"values": [{"a":"Basal|1","b":"BK|2"},{"a":"Basal|3","b":"Ang|4"}]},
      "mark": {"type": "rule", "strokeWidth": 2, "color": "#222"},
      "encoding": {
        "x": {"field": "a", "type": "nominal", "bandPosition": -0.08, "scale": {"domain": ["Basal|1","BK|2","Basal|3","Ang|4"], "paddingInner": 0.31, "paddingOuter": 0.461, "align": 0.859}},
        "x2": {"field": "b", "bandPosition": 1.02},
        "y": {"datum": 1.857, "type": "quantitative", "scale": {"domain": [0,2.043], "nice": false}}
      }
    },
    {
      "data": {"values": [{"slot":"Basal|1","v":2.04,"t":"B₂R"},{"slot":"Basal|3","v":2.04,"t":"MasR"}]},
      "mark": {"type": "text", "fontSize": 19, "fontWeight": "bold", "color": "#222"},
      "encoding": {"x": {"field": "slot", "type": "nominal", "bandPosition": 1.22, "scale": {"domain": ["Basal|1","BK|2","Basal|3","Ang|4"], "paddingInner": 0.31, "paddingOuter": 0.461, "align": 0.859}}, "text": {"field": "t"}}
    },
    {
      "data": {"values": [{"slot":"Basal|1","v":4.27,"t":"E"}]},
      "mark": {"type": "text", "fontSize": 18, "fontWeight": "bold", "color": "#333", "dx": -91},
      "encoding": {"text": {"field": "t"}}
    }
  ]
},
{"width": 1, "height": 1, "data": {"values": []}, "mark": "point", "encoding": {}},
{
  "width": 222, "height": 146,
  "encoding": {
    "x": {"field": "slot", "type": "nominal", "scale": {"domain": ["Basal","Ang","Ang + B₂R ant","BK","BK + MasR ant"], "paddingInner": 0.32, "paddingOuter": 0.18},
          "axis": {"title": null, "domainWidth": 1.5, "tickWidth": 1.5, "tickSize": 4, "labelAngle": 0, "labelFontSize": 15, "labelPadding": 3, "labelLineHeight": 16,
                   "labelExpr": "indexof(datum.value,' + ')>0 ? [slice(datum.value,0,indexof(datum.value,' + ')), slice(datum.value,indexof(datum.value,' + ')+1)] : datum.value"}},
    "y": {"field": "v", "type": "quantitative", "scale": {"domain": [0,4], "nice": false},
          "axis": {"values": [0,1,2,3,4], "title": ["p-Akt / Akt", "(fold change)"], "titleFontSize": 16, "titleLineHeight": 17, "titlePadding": 15, "labelFontSize": 12, "tickSize": 3, "tickWidth": 1.5, "domainWidth": 1.5, "labelPadding": 2}}
  },
  "layer": [
    {
      "data": {"values": [
        {"slot":"Basal","v":1.0,"hi":1.005,"kind":"solid"},
        {"slot":"Ang","v":1.08,"hi":1.17,"kind":"white"},
        {"slot":"Ang + B₂R ant","v":1.48,"hi":1.87,"kind":"hatchF3"},
        {"slot":"BK","v":2.63,"hi":3.13,"kind":"white"},
        {"slot":"BK + MasR ant","v":1.62,"hi":2.08,"kind":"hatchF5"}
      ]},
      "layer": [
        {"mark": {"type": "rule", "strokeWidth": 2, "color": "#000"}, "encoding": {"y2": {"field": "hi"}}},
        {"mark": {"type": "tick", "thickness": 2, "size": 14, "color": "#000"}, "encoding": {"y": {"field": "hi", "type": "quantitative", "scale": {"domain": [0,4], "nice": false}}}},
        {"mark": {"type": "bar", "stroke": "#000", "strokeWidth": 2.2},
         "encoding": {"fill": {"condition": [
            {"test": "datum.kind==='solid'", "value": "#2b2b2b"},
            {"test": "datum.kind==='hatchF3'", "value": {"gradient": "linear", "x1": 0, "y1": 1, "x2": 0.66, "y2": -0.19, "stops": [
{"offset":0,"color":"#000"},{"offset":0.03,"color":"#000"},{"offset":0.03,"color":"#fff"},{"offset":0.1,"color":"#fff"},
{"offset":0.1,"color":"#000"},{"offset":0.13,"color":"#000"},{"offset":0.13,"color":"#fff"},{"offset":0.2,"color":"#fff"},
{"offset":0.2,"color":"#000"},{"offset":0.23,"color":"#000"},{"offset":0.23,"color":"#fff"},{"offset":0.3,"color":"#fff"},
{"offset":0.3,"color":"#000"},{"offset":0.33,"color":"#000"},{"offset":0.33,"color":"#fff"},{"offset":0.4,"color":"#fff"},
{"offset":0.4,"color":"#000"},{"offset":0.43,"color":"#000"},{"offset":0.43,"color":"#fff"},{"offset":0.5,"color":"#fff"},
{"offset":0.5,"color":"#000"},{"offset":0.53,"color":"#000"},{"offset":0.53,"color":"#fff"},{"offset":0.6,"color":"#fff"},
{"offset":0.6,"color":"#000"},{"offset":0.63,"color":"#000"},{"offset":0.63,"color":"#fff"},{"offset":0.7,"color":"#fff"},
{"offset":0.7,"color":"#000"},{"offset":0.73,"color":"#000"},{"offset":0.73,"color":"#fff"},{"offset":0.8,"color":"#fff"},
{"offset":0.8,"color":"#000"},{"offset":0.83,"color":"#000"},{"offset":0.83,"color":"#fff"},{"offset":0.9,"color":"#fff"},
{"offset":0.9,"color":"#000"},{"offset":0.93,"color":"#000"},{"offset":0.93,"color":"#fff"},{"offset":1,"color":"#fff"}]}},
            {"test": "datum.kind==='hatchF5'", "value": {"gradient": "linear", "x1": 0, "y1": 1, "x2": 0.608, "y2": -0.2, "stops": [
{"offset":0,"color":"#000"},{"offset":0.03,"color":"#000"},{"offset":0.03,"color":"#fff"},{"offset":0.1,"color":"#fff"},
{"offset":0.1,"color":"#000"},{"offset":0.13,"color":"#000"},{"offset":0.13,"color":"#fff"},{"offset":0.2,"color":"#fff"},
{"offset":0.2,"color":"#000"},{"offset":0.23,"color":"#000"},{"offset":0.23,"color":"#fff"},{"offset":0.3,"color":"#fff"},
{"offset":0.3,"color":"#000"},{"offset":0.33,"color":"#000"},{"offset":0.33,"color":"#fff"},{"offset":0.4,"color":"#fff"},
{"offset":0.4,"color":"#000"},{"offset":0.43,"color":"#000"},{"offset":0.43,"color":"#fff"},{"offset":0.5,"color":"#fff"},
{"offset":0.5,"color":"#000"},{"offset":0.53,"color":"#000"},{"offset":0.53,"color":"#fff"},{"offset":0.6,"color":"#fff"},
{"offset":0.6,"color":"#000"},{"offset":0.63,"color":"#000"},{"offset":0.63,"color":"#fff"},{"offset":0.7,"color":"#fff"},
{"offset":0.7,"color":"#000"},{"offset":0.73,"color":"#000"},{"offset":0.73,"color":"#fff"},{"offset":0.8,"color":"#fff"},
{"offset":0.8,"color":"#000"},{"offset":0.83,"color":"#000"},{"offset":0.83,"color":"#fff"},{"offset":0.9,"color":"#fff"},
{"offset":0.9,"color":"#000"},{"offset":0.93,"color":"#000"},{"offset":0.93,"color":"#fff"},{"offset":1,"color":"#fff"}]}}
           ], "value": "#ffffff"}}}
      ]
    },
    {
      "data": {"values": [{"slot":"BK","v":3.33,"t":"*"}]},
      "mark": {"type": "text", "fontSize": 13, "color": "#222"},
      "encoding": {"text": {"field": "t"}}
    },
    {
      "data": {"values": [{"slot":"Ang + B₂R ant","v":3.9,"t":"B₂R-MasR"}]},
      "mark": {"type": "text", "fontSize": 19, "fontWeight": "bold", "color": "#222", "dx": -11},
      "encoding": {"text": {"field": "t"}}
    },
    {
      "data": {"values": [{"slot":"Basal","v":8.41,"t":"F"}]},
      "mark": {"type": "text", "fontSize": 18, "fontWeight": "bold", "color": "#333", "dx": -74},
      "encoding": {"text": {"field": "t"}}
    }
  ]
}
]
}
